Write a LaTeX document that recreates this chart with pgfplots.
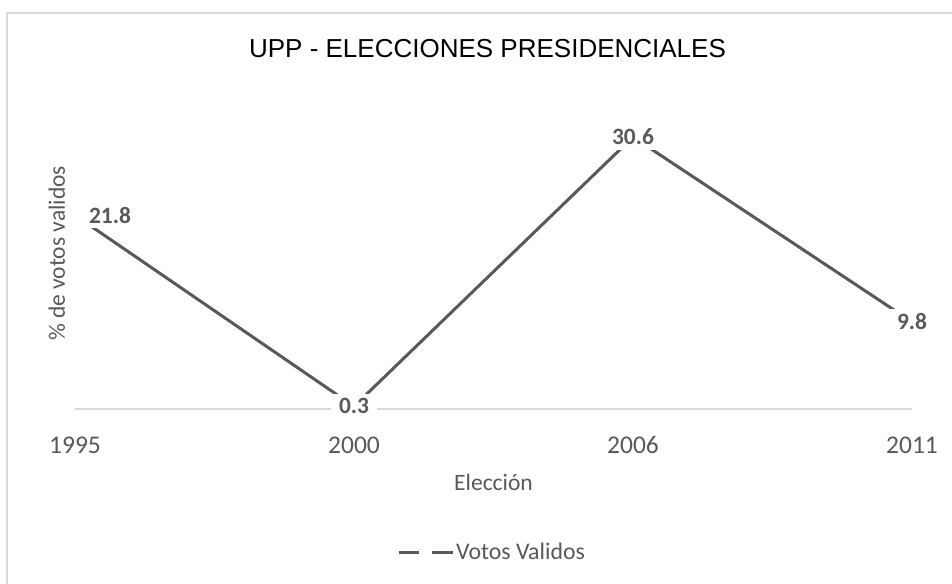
\documentclass[border=0pt]{standalone}
\usepackage{fontspec}
\setmainfont{Carlito}
\newfontfamily\titlefont{Liberation Sans}
\usepackage{pgfplots}
\pgfplotsset{compat=1.18}
\definecolor{linegray}{HTML}{595959}
\definecolor{framegray}{HTML}{D9D9D9}

\begin{document}
\begin{tikzpicture}
\clip (0pt,0pt) rectangle (952pt,-583pt);
\fill[white] (0pt,0pt) rectangle (952pt,-583pt);
\draw[framegray, line width=1.5pt] (7pt,-13pt) rectangle (990pt,-630pt);
\node[font=\titlefont\fontsize{26}{30}\selectfont, anchor=base] at (487.5pt,-58pt) {UPP - ELECCIONES PRESIDENCIALES};
\begin{axis}[
    scale only axis,
    width=837pt, height=311.15pt,
    at={(75pt,-409pt)}, anchor=south west,
    xmin=0, xmax=3, ymin=0, ymax=35,
    axis x line*=bottom, axis y line*=left,
    x axis line style={framegray, line width=1.3pt, -},
    y axis line style={draw=none},
    xtick={0,1,2,3},
    xticklabels={1995,2000,2006,2011},
    ytick=\empty,
    major tick length=0pt,
    xticklabel style={anchor=base, yshift=-44pt, font=\fontsize{25.5}{30}\selectfont, text=linegray},
    xlabel={Elección},
    xlabel style={at={(axis description cs:0.5,-0.2605)}, anchor=base, font=\fontsize{23.5}{28}\selectfont, text=linegray},
    ylabel={\% de votos validos},
    ylabel style={at={(axis description cs:-0.012,0.5)}, anchor=base, font=\fontsize{23.5}{28}\selectfont, text=linegray},
    clip=false,
    legend style={at={(axis description cs:0.4982,-0.4598)}, anchor=center, draw=none, fill=none,
        font=\fontsize{23.8}{28}\selectfont, text=linegray, inner sep=0pt,
        nodes={inner sep=2pt}},
    legend image code/.code={
        \draw[#1, line cap=butt] (0pt,0pt) -- (20pt,0pt);
        \draw[#1, line cap=butt] (33pt,0pt) -- (54pt,0pt);},
]
\addplot[linegray, line width=3pt, line join=round, mark=none,
    point meta=y,
    nodes near coords={\pgfmathprintnumber[fixed,fixed zerofill,precision=1,assume math mode=true]{\pgfplotspointmeta}},
    every node near coord/.append style={anchor=center, fill=white, inner xsep=8pt, inner ysep=4.5pt,
        font=\bfseries\fontsize{23.4}{28}\selectfont, text=linegray},
    coordinate style/.condition={x==0}{xshift=35pt, minimum width=76pt},
    ] coordinates {(0,21.8) (1,0.3) (2,30.6) (3,9.8)};
\addlegendentry{Votos Validos}
\end{axis}
\end{tikzpicture}
\end{document}
